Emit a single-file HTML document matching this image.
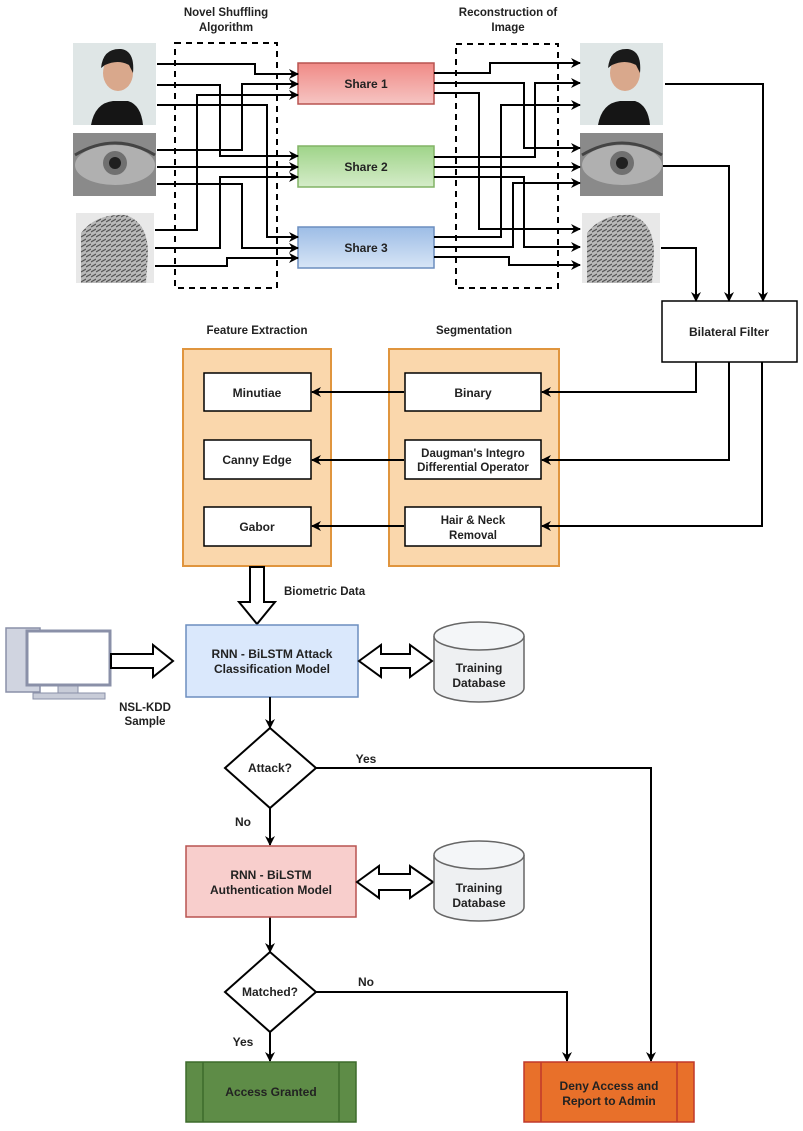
<!DOCTYPE html>
<html><head><meta charset="utf-8"><style>
html,body{margin:0;padding:0;background:#fff}
svg{display:block}
text{font-family:"Liberation Sans",Arial,sans-serif;font-weight:bold;fill:#222}
</style></head><body>
<svg width="803" height="1131" viewBox="0 0 803 1131" xmlns="http://www.w3.org/2000/svg">
<defs>
<marker id="a" markerWidth="10" markerHeight="10" refX="9" refY="5" orient="auto" markerUnits="userSpaceOnUse"><path d="M0,0 L10,5 L0,10 L3,5 Z" fill="#000"/></marker>
<linearGradient id="r" x1="0" y1="0" x2="0" y2="1"><stop offset="0" stop-color="#f08a86"/><stop offset="1" stop-color="#f6c5c3"/></linearGradient>
<linearGradient id="g" x1="0" y1="0" x2="0" y2="1"><stop offset="0" stop-color="#9fd489"/><stop offset="1" stop-color="#d5ecc9"/></linearGradient>
<linearGradient id="b" x1="0" y1="0" x2="0" y2="1"><stop offset="0" stop-color="#9dbde6"/><stop offset="1" stop-color="#d7e5f6"/></linearGradient>
<g id="face"><rect width="83" height="82" fill="#dfe6e6"/><ellipse cx="45" cy="30" rx="15" ry="18" fill="#d9a88c"/><path d="M28,25 Q30,5 48,6 Q62,8 60,30 L56,22 Q45,16 32,22 Z" fill="#1a1a1a"/><path d="M18,82 Q22,60 40,58 L55,58 Q68,62 70,82 Z" fill="#151515"/></g>
<g id="eye"><rect width="83" height="63" fill="#8a8a8a"/><ellipse cx="42" cy="32" rx="40" ry="20" fill="#b0b0b0"/><circle cx="42" cy="30" r="12" fill="#707070"/><circle cx="42" cy="30" r="6" fill="#202020"/><path d="M2,22 Q42,-2 82,22" stroke="#444" stroke-width="3" fill="none"/></g>
<pattern id="fp" width="5" height="5" patternUnits="userSpaceOnUse"><rect width="5" height="5" fill="#b8b8b8"/><path d="M0,4 L5,1" stroke="#555" stroke-width="1.2"/></pattern>
<g id="fing"><rect width="78" height="70" fill="#e8e8e8"/><path d="M5,70 L5,20 Q20,0 50,2 Q72,10 72,40 L70,70 Z" fill="url(#fp)"/></g>
</defs>

<text x="226" y="16" font-size="11.5" text-anchor="middle">Novel Shuffling</text>
<text x="226" y="31" font-size="11.5" text-anchor="middle">Algorithm</text>
<text x="508" y="16" font-size="11.5" text-anchor="middle">Reconstruction of</text>
<text x="508" y="31" font-size="11.5" text-anchor="middle">Image</text>

<use href="#face" x="73" y="43"/>
<use href="#eye" x="73" y="133"/>
<use href="#fing" x="76" y="213"/>
<use href="#face" x="580" y="43"/>
<use href="#eye" x="580" y="133"/>
<use href="#fing" x="582" y="213"/>

<rect x="175" y="43" width="102" height="245" fill="none" stroke="#000" stroke-width="2" stroke-dasharray="6,5"/>
<rect x="456" y="44" width="102" height="244" fill="none" stroke="#000" stroke-width="2" stroke-dasharray="6,5"/>

<rect x="298" y="63" width="136" height="41" fill="url(#r)" stroke="#b85450" stroke-width="1.5"/>
<rect x="298" y="146" width="136" height="41" fill="url(#g)" stroke="#82b366" stroke-width="1.5"/>
<rect x="298" y="227" width="136" height="41" fill="url(#b)" stroke="#6c8ebf" stroke-width="1.5"/>
<text x="366" y="88" font-size="12" text-anchor="middle">Share 1</text>
<text x="366" y="171" font-size="12" text-anchor="middle">Share 2</text>
<text x="366" y="252" font-size="12" text-anchor="middle">Share 3</text>

<rect x="662" y="301" width="135" height="61" fill="#fff" stroke="#000" stroke-width="1.5"/>
<text x="729" y="336" font-size="12" text-anchor="middle">Bilateral Filter</text>

<text x="257" y="334" font-size="11.5" text-anchor="middle">Feature Extraction</text>
<text x="474" y="334" font-size="11.5" text-anchor="middle">Segmentation</text>
<rect x="183" y="349" width="148" height="217" fill="#fad7ac" stroke="#e0953e" stroke-width="2"/>
<rect x="389" y="349" width="170" height="217" fill="#fad7ac" stroke="#e0953e" stroke-width="2"/>
<g fill="#fff" stroke="#000" stroke-width="1.5">
<rect x="204" y="373" width="107" height="38"/><rect x="204" y="440" width="107" height="39"/><rect x="204" y="507" width="107" height="39"/>
<rect x="405" y="373" width="136" height="38"/><rect x="405" y="440" width="136" height="39"/><rect x="405" y="507" width="136" height="39"/>
</g>
<text x="257" y="397" font-size="12" text-anchor="middle">Minutiae</text>
<text x="257" y="464" font-size="12" text-anchor="middle">Canny Edge</text>
<text x="257" y="531" font-size="12" text-anchor="middle">Gabor</text>
<text x="473" y="397" font-size="12" text-anchor="middle">Binary</text>
<text x="473" y="457" font-size="11.5" text-anchor="middle">Daugman's Integro</text>
<text x="473" y="471" font-size="11.5" text-anchor="middle">Differential Operator</text>
<text x="473" y="524" font-size="11.5" text-anchor="middle">Hair &amp; Neck</text>
<text x="473" y="539" font-size="11.5" text-anchor="middle">Removal</text>

<g fill="none" stroke="#000" stroke-width="2" marker-end="url(#a)">
<path d="M157,64 H255 V74 H298"/>
<path d="M157,85 H220 V156 H298"/>
<path d="M157,105 H267 V237 H298"/>
<path d="M157,150 H242 V84 H298"/>
<path d="M157,167 H298"/>
<path d="M157,184 H242 V248 H298"/>
<path d="M155,230 H197 V95 H298"/>
<path d="M155,248 H220 V177 H298"/>
<path d="M155,266 H227 V258 H298"/>

<path d="M434,73 H490 V63 H580"/>
<path d="M434,83 H524 V148 H580"/>
<path d="M434,93 H479 V229 H580"/>
<path d="M434,157 H535 V83 H580"/>
<path d="M434,167 H580"/>
<path d="M434,177 H524 V247 H580"/>
<path d="M434,237 H501 V105 H580"/>
<path d="M434,247 H513 V183 H580"/>
<path d="M434,257 H509 V265 H580"/>

<path d="M665,84 H763 V301"/>
<path d="M663,166 H729 V301"/>
<path d="M661,248 H696 V301"/>
<path d="M696,362 V392 H542"/>
<path d="M729,362 V460 H542"/>
<path d="M762,362 V526 H542"/>
<path d="M404,392 H312"/>
<path d="M404,460 H312"/>
<path d="M404,526 H312"/>
</g>

<path d="M250,567 H264 V602 H275 L257,624 L239,602 H250 Z" fill="#fff" stroke="#000" stroke-width="2"/>
<text x="284" y="595" font-size="11.5" font-weight="normal">Biometric Data</text>

<rect x="186" y="625" width="172" height="72" fill="#dae8fc" stroke="#6c8ebf" stroke-width="1.5"/>
<text x="272" y="658" font-size="12" text-anchor="middle">RNN - BiLSTM Attack</text>
<text x="272" y="673" font-size="12" text-anchor="middle">Classification Model</text>

<rect x="6" y="628" width="34" height="64" fill="#d0d4e0" stroke="#8a90a8" stroke-width="1.5"/>
<rect x="27" y="631" width="83" height="54" fill="#fff" stroke="#8a90a8" stroke-width="3"/>
<rect x="58" y="686" width="20" height="7" fill="#c8ccd8" stroke="#8a90a8"/>
<rect x="33" y="693" width="72" height="6" fill="#c8ccd8" stroke="#8a90a8"/>
<path d="M111,654 H153 V645 L173,661 L153,677 V668 H111 Z" fill="#fff" stroke="#000" stroke-width="2"/>
<text x="145" y="711" font-size="11.5" text-anchor="middle">NSL-KDD</text>
<text x="145" y="725" font-size="11.5" text-anchor="middle">Sample</text>

<path d="M359,661 L381,645 V654 H410 V645 L432,661 L410,677 V668 H381 V677 Z" fill="#fff" stroke="#000" stroke-width="2"/>
<path d="M434,636 V688 A45,14 0 0 0 524,688 V636" fill="#eef0f2" stroke="#666" stroke-width="1.5"/>
<ellipse cx="479" cy="636" rx="45" ry="14" fill="#f4f6f8" stroke="#666" stroke-width="1.5"/>
<text x="479" y="672" font-size="12" text-anchor="middle" font-weight="normal" fill="#444">Training</text>
<text x="479" y="687" font-size="12" text-anchor="middle" font-weight="normal" fill="#444">Database</text>

<g fill="none" stroke="#000" stroke-width="2" marker-end="url(#a)">
<path d="M270,697 V728"/>
<path d="M270,808 V845"/>
<path d="M316,768 H651 V1061"/>
<path d="M270,917 V952"/>
<path d="M270,1032 V1061"/>
<path d="M316,992 H567 V1061"/>
</g>
<path d="M270,728 L316,768 L270,808 L225,768 Z" fill="#fff" stroke="#000" stroke-width="2"/>
<text x="270" y="772" font-size="12" text-anchor="middle">Attack?</text>
<text x="366" y="763" font-size="12" text-anchor="middle">Yes</text>
<text x="243" y="826" font-size="12" text-anchor="middle">No</text>

<rect x="186" y="846" width="170" height="71" fill="#f8cecc" stroke="#b85450" stroke-width="1.5"/>
<text x="271" y="879" font-size="12" text-anchor="middle">RNN - BiLSTM</text>
<text x="271" y="894" font-size="12" text-anchor="middle">Authentication Model</text>

<path d="M357,882 L379,866 V874 H410 V866 L433,882 L410,898 V890 H379 V898 Z" fill="#fff" stroke="#000" stroke-width="2"/>
<path d="M434,855 V907 A45,14 0 0 0 524,907 V855" fill="#eef0f2" stroke="#666" stroke-width="1.5"/>
<ellipse cx="479" cy="855" rx="45" ry="14" fill="#f4f6f8" stroke="#666" stroke-width="1.5"/>
<text x="479" y="892" font-size="12" text-anchor="middle" font-weight="normal" fill="#444">Training</text>
<text x="479" y="907" font-size="12" text-anchor="middle" font-weight="normal" fill="#444">Database</text>

<path d="M270,952 L316,992 L270,1032 L225,992 Z" fill="#fff" stroke="#000" stroke-width="2"/>
<text x="270" y="996" font-size="12" text-anchor="middle">Matched?</text>
<text x="366" y="986" font-size="12" text-anchor="middle">No</text>
<text x="243" y="1046" font-size="12" text-anchor="middle">Yes</text>

<rect x="186" y="1062" width="170" height="60" fill="#5e8c47" stroke="#3d6b2c" stroke-width="1.5"/>
<path d="M203,1062 V1122 M339,1062 V1122" stroke="#3d6b2c" stroke-width="1.5"/>
<text x="271" y="1096" font-size="12" text-anchor="middle" fill="#fff">Access Granted</text>
<rect x="524" y="1062" width="170" height="60" fill="#e8702a" stroke="#c0392b" stroke-width="1.5"/>
<path d="M541,1062 V1122 M677,1062 V1122" stroke="#c0392b" stroke-width="1.5"/>
<text x="609" y="1090" font-size="12" text-anchor="middle" fill="#fff">Deny Access and</text>
<text x="609" y="1105" font-size="12" text-anchor="middle" fill="#fff">Report to Admin</text>
</svg>
</body></html>
